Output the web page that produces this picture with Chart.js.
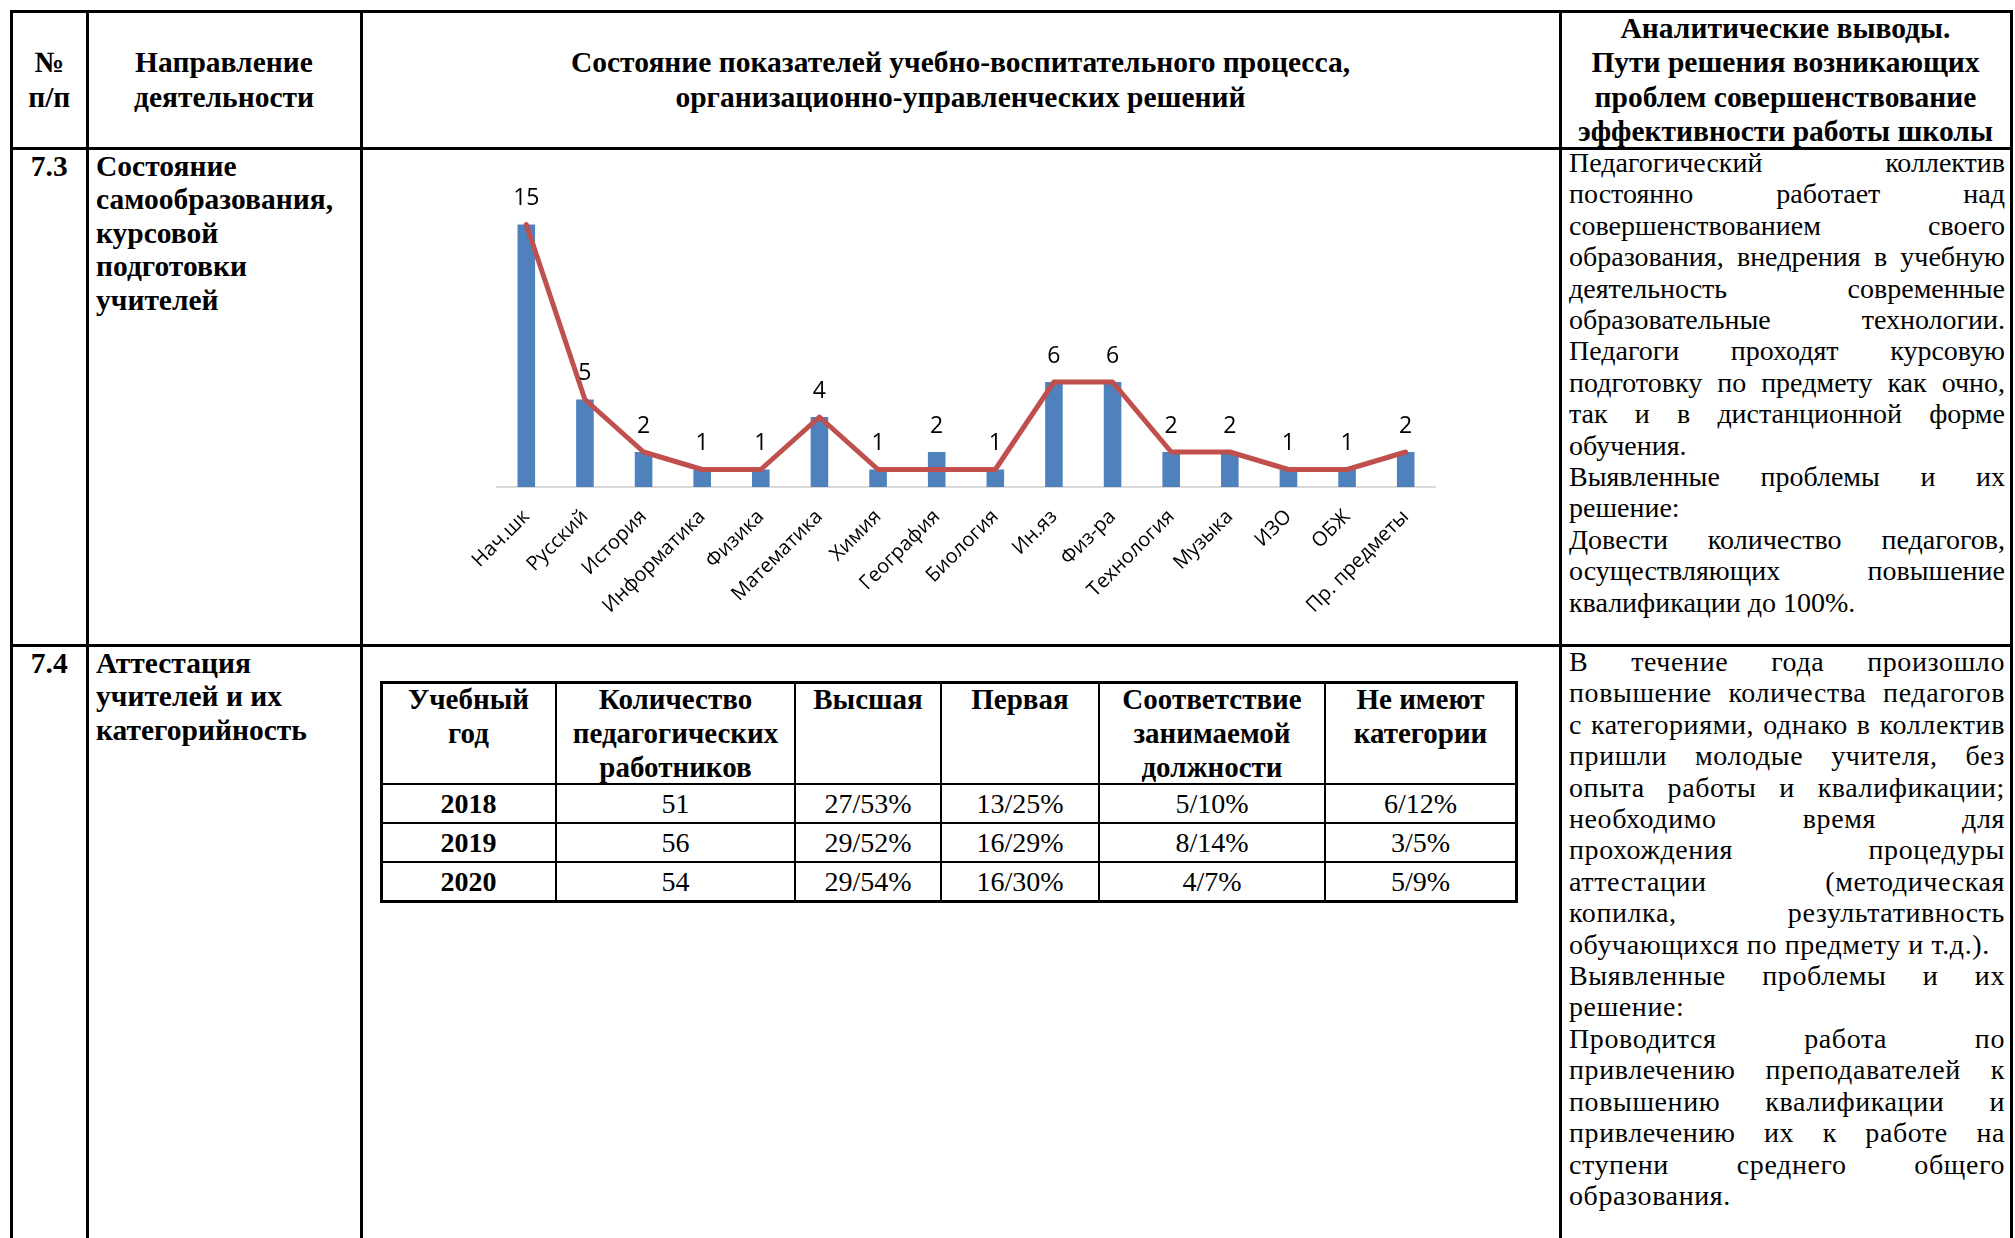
<!DOCTYPE html>
<html lang="ru">
<head>
<meta charset="utf-8">
<title>Состояние самообразования, курсовой подготовки учителей</title>
<script src="https://cdn.jsdelivr.net/npm/chart.js@4.4.1/dist/chart.umd.min.js"></script>
<style>
    html, body { margin: 0; padding: 0; background: #fff; }
    body {
        width: 2015px; height: 1238px; overflow: hidden; position: relative;
        font-family: 'Liberation Serif', 'Times New Roman', serif; color: #000;
    }
    .ln { position: absolute; background: #000; }
    .cell {
        position: absolute; display: flex; flex-direction: column;
        align-items: center; justify-content: center; text-align: center;
        white-space: nowrap;
    }
    .top { justify-content: flex-start; }
    .left { align-items: flex-start; text-align: left; }
    .hd { font-weight: bold; font-size: 29.5px; line-height: 34.3px; }
    .bd { font-weight: bold; font-size: 29.5px; line-height: 33.4px; }
    .th { font-weight: bold; font-size: 29px; line-height: 34px; }
    .td { font-size: 28px; line-height: 30px; }
    .txt { position: absolute; width: 436px; font-size: 28px; line-height: 31.4px; }
    .txt.wide { letter-spacing: 0.6px; }
    .txt div { white-space: nowrap; }
    .txt .j { text-align: justify; text-align-last: justify; white-space: normal; }
    #chartBox { position: absolute; left: 363px; top: 150px; width: 1195px; height: 493px; }
</style>
</head>
<body>
<div id="chartBox"><canvas id="courseChart"></canvas></div>
<script>
// ========== Данные диаграммы ==========
const subjects = ['Нач.шк', 'Русский', 'История', 'Информатика', 'Физика', 'Математика', 'Химия',
    'География', 'Биология', 'Ин.яз', 'Физ-ра', 'Технология', 'Музыка', 'ИЗО', 'ОБЖ', 'Пр. предметы'];
const teachersBars = [15, 5, 2, 1, 1, 4, 1, 2, 1, 6, 6, 2, 2, 1, 1, 2];
const teachersLine = [15, 5, 2, 1, 1, 4, 1, 1, 1, 6, 6, 2, 2, 1, 1, 2];
const yMax = 16;

// ========== Данные таблицы аттестации ==========
const attYears = ['2018', '2019', '2020'];
const attTotal = ['51', '56', '54'];
const attHighest = ['27/53%', '29/52%', '29/54%'];
const attFirst = ['13/25%', '16/29%', '16/30%'];
const attPosition = ['5/10%', '8/14%', '4/7%'];
const attNone = ['6/12%', '3/5%', '5/9%'];
const attHeaders = ['Учебный<br>год', 'Количество<br>педагогических<br>работников', 'Высшая', 'Первая',
    'Соответствие<br>занимаемой<br>должности', 'Не имеют<br>категории'];

// ========== Тексты выводов (строки как в документе, 1 = по ширине) ==========
const notes73 = [
    ['Педагогический коллектив', 1], ['постоянно работает над', 1], ['совершенствованием своего', 1],
    ['образования, внедрения в учебную', 1], ['деятельность современные', 1],
    ['образовательные технологии.', 1], ['Педагоги проходят курсовую', 1],
    ['подготовку по предмету как очно,', 1], ['так и в дистанционной форме', 1], ['обучения.', 0],
    ['Выявленные проблемы и их', 1], ['решение:', 0], ['Довести количество педагогов,', 1],
    ['осуществляющих повышение', 1], ['квалификации до 100%.', 0]
];
const notes74 = [
    ['В течение года произошло', 1], ['повышение количества педагогов', 1],
    ['с категориями, однако в коллектив', 1], ['пришли молодые учителя, без', 1],
    ['опыта работы и квалификации;', 1], ['необходимо время для', 1], ['прохождения процедуры', 1],
    ['аттестации (методическая', 1], ['копилка, результативность', 1],
    ['обучающихся по предмету и т.д.).', 0], ['Выявленные проблемы и их', 1], ['решение:', 0],
    ['Проводится работа по', 1], ['привлечению преподавателей к', 1], ['повышению квалификации и', 1],
    ['привлечению их к работе на', 1], ['ступени среднего общего', 1], ['образования.', 0]
];

// ========== Разметка документа ==========
const page = document.body;

function hLine(x1, x2, y, w) {
    const d = document.createElement('div');
    d.className = 'ln';
    d.style.cssText = `left:${x1}px;top:${y - w / 2}px;width:${x2 - x1}px;height:${w}px`;
    page.appendChild(d);
}

function vLine(x, y1, y2, w) {
    const d = document.createElement('div');
    d.className = 'ln';
    d.style.cssText = `left:${x - w / 2}px;top:${y1}px;width:${w}px;height:${y2 - y1}px`;
    page.appendChild(d);
}

function cell(x1, y1, x2, y2, html, cls) {
    const d = document.createElement('div');
    d.className = 'cell ' + cls;
    d.style.cssText = `left:${x1}px;top:${y1}px;width:${x2 - x1}px;height:${y2 - y1}px`;
    d.innerHTML = html;
    page.appendChild(d);
}

function notes(x, y, lines, cls) {
    const d = document.createElement('div');
    d.className = 'txt ' + (cls || '');
    d.style.cssText = `left:${x}px;top:${y}px`;
    lines.forEach(([t, j]) => {
        const row = document.createElement('div');
        if (j) row.className = 'j';
        row.textContent = t;
        d.appendChild(row);
    });
    page.appendChild(d);
}

// основная таблица
const colX = [11.5, 87, 361, 1560, 2011];
[11.5, 148, 645].forEach(y => hLine(10, 2012.5, y, 3));
colX.forEach(x => vLine(x, 10, 1238, 3));

cell(colX[0], 11.5, colX[1], 148, '№<br>п/п', 'hd');
cell(colX[1], 11.5, colX[2], 148, 'Направление<br>деятельности', 'hd');
cell(colX[2], 11.5, colX[3], 148,
    'Состояние показателей учебно-воспитательного процесса,<br>организационно-управленческих решений', 'hd');
cell(colX[3], 11.5, colX[4], 148,
    'Аналитические выводы.<br>Пути решения возникающих<br>проблем совершенствование<br>эффективности работы школы', 'hd');

cell(colX[0], 150, colX[1], 645, '7.3', 'bd top');
cell(96, 150, colX[2], 645, 'Состояние<br>самообразования,<br>курсовой<br>подготовки<br>учителей', 'bd top left');
notes(1569, 147, notes73);

cell(colX[0], 647, colX[1], 1238, '7.4', 'bd top');
cell(96, 647, colX[2], 1238, 'Аттестация<br>учителей и их<br>категорийность', 'bd top left');
notes(1569, 646, notes74, 'wide');

// таблица аттестации
const tX = [381, 556, 795, 941, 1099, 1325, 1516];
const tY = [682, 784, 823, 862, 901];
hLine(tX[0] - 1.5, tX[6] + 1.5, tY[0], 3);
hLine(tX[0] - 1.5, tX[6] + 1.5, tY[4], 3);
[tY[1], tY[2], tY[3]].forEach(y => hLine(tX[0], tX[6], y, 2));
vLine(tX[0], tY[0], tY[4], 3);
vLine(tX[6], tY[0], tY[4], 3);
tX.slice(1, 6).forEach(x => vLine(x, tY[0], tY[4], 2));

attHeaders.forEach((h, i) => cell(tX[i], tY[0], tX[i + 1], tY[1], h, 'th top'));
const attColumns = [attYears, attTotal, attHighest, attFirst, attPosition, attNone];
attColumns.forEach((col, i) => {
    col.forEach((v, r) => {
        cell(tX[i], tY[r + 1], tX[i + 1], tY[r + 2], i === 0 ? '<b>' + v + '</b>' : v, 'td');
    });
});

// ========== Диаграмма ==========
const valueLabels = {
    id: 'valueLabels',
    afterDatasetsDraw(chart) {
        const meta = chart.getDatasetMeta(1);
        const ctx = chart.ctx;
        ctx.save();
        ctx.font = '23px "Open Sans"';
        ctx.fillStyle = '#000';
        ctx.textAlign = 'center';
        ctx.textBaseline = 'middle';
        meta.data.forEach((bar, i) => ctx.fillText(String(teachersBars[i]), bar.x, bar.y - 26));
        ctx.restore();
    }
};

const ctx = document.getElementById('courseChart').getContext('2d');
new Chart(ctx, {
    type: 'bar',
    data: {
        labels: subjects,
        datasets: [
            {
                type: 'line',
                data: teachersLine,
                borderColor: '#C0504D',
                borderWidth: 5,
                pointRadius: 0,
                tension: 0,
                borderJoinStyle: 'round',
                borderCapStyle: 'round',
                order: 0
            },
            {
                type: 'bar',
                data: teachersBars,
                backgroundColor: '#4F81BD',
                barPercentage: 0.3,
                categoryPercentage: 1,
                order: 1
            }
        ]
    },
    options: {
        responsive: true,
        maintainAspectRatio: false,
        animation: false,
        layout: { padding: { left: 134, right: 123, top: 57, bottom: 0 } },
        plugins: {
            legend: { display: false },
            tooltip: { enabled: false }
        },
        scales: {
            x: {
                grid: { display: false },
                border: { display: true, color: '#D9D9D9', width: 2 },
                ticks: {
                    color: '#000',
                    font: { family: 'Open Sans', size: 20 },
                    minRotation: 45,
                    maxRotation: 45,
                    autoSkip: false,
                    padding: 10
                },
                afterFit: (scale) => { scale.height = 156; }
            },
            y: { display: false, min: 0, max: yMax }
        }
    },
    plugins: [valueLabels]
});
</script>
</body>
</html>
